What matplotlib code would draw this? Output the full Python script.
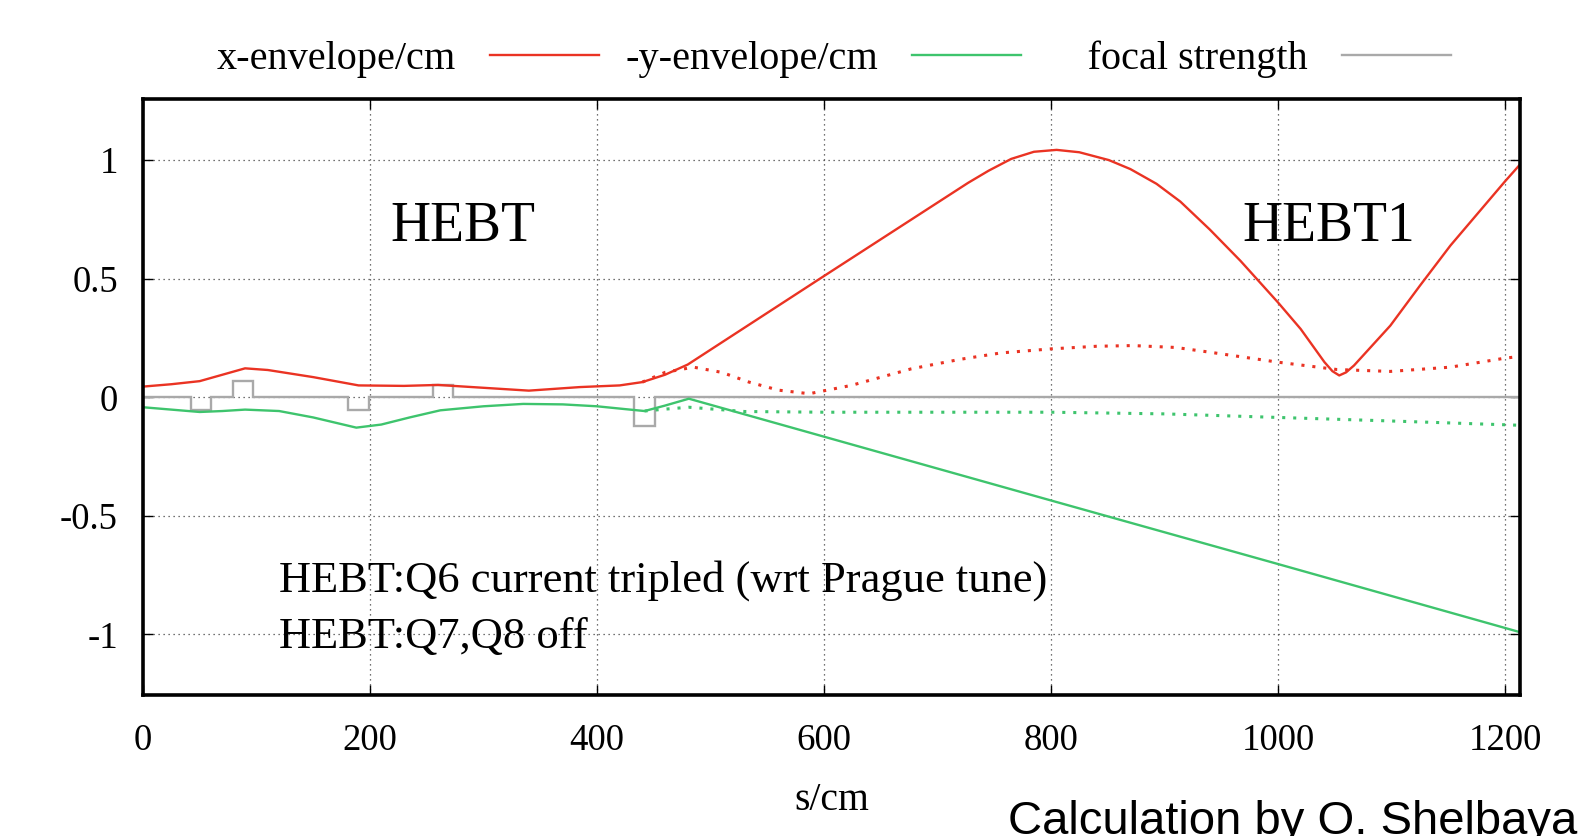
import matplotlib
matplotlib.use('Agg')
import matplotlib.pyplot as plt

plt.rcParams['font.family'] = 'Liberation Serif'
plt.rcParams['axes.unicode_minus'] = False

# x-envelope (solid = Q6 tripled, dotted = reference)
x_env_s = [0, 25, 50, 70, 90, 110, 150, 190, 230, 260, 300, 340, 385, 420, 440,
           460, 480, 600, 727, 745, 765, 785, 805, 825, 851, 870, 893, 914, 940,
           967, 1000, 1020, 1041, 1048, 1054, 1060, 1067, 1099, 1125, 1152, 1200,
           1213]
x_env = [0.045, 0.055, 0.068, 0.095, 0.122, 0.115, 0.085, 0.050, 0.048, 0.052,
         0.040, 0.028, 0.043, 0.050, 0.064, 0.095, 0.138, 0.511, 0.904, 0.955,
         1.005, 1.035, 1.043, 1.033, 1.0, 0.962, 0.90, 0.825, 0.707, 0.575, 0.40,
         0.288, 0.148, 0.110, 0.092, 0.105, 0.134, 0.302, 0.47, 0.64, 0.91, 0.98]
x_ref_s = [440, 460, 485, 510, 534, 560, 587, 624, 677, 720, 756, 800, 840, 872,
           910, 940, 1000, 1052, 1099, 1152, 1200, 1213]
x_ref = [0.064, 0.105, 0.127, 0.105, 0.064, 0.030, 0.015, 0.050, 0.120, 0.160,
         0.187, 0.204, 0.215, 0.218, 0.210, 0.190, 0.148, 0.117, 0.109, 0.127,
         0.165, 0.172]

# -y-envelope
y_env_s = [0, 25, 50, 70, 90, 120, 150, 188, 210, 235, 262, 300, 335, 370, 400,
           425, 442, 460, 481, 600, 800, 1000, 1213]
y_env = [-0.042, -0.052, -0.062, -0.058, -0.052, -0.058, -0.085, -0.128, -0.115,
         -0.085, -0.055, -0.038, -0.028, -0.030, -0.038, -0.050, -0.058, -0.035,
         -0.006, -0.166, -0.435, -0.703, -0.99]
y_ref_s = [442, 460, 481, 530, 600, 700, 800, 900, 1000, 1100, 1213]
y_ref = [-0.058, -0.050, -0.042, -0.060, -0.063, -0.063, -0.063, -0.070, -0.085,
         -0.100, -0.118]

# focal strength (step)
focal_edges = [0, 42, 60, 79, 97, 181, 199, 256, 273, 433, 451, 1213]
focal_vals = [0, -0.053, 0, 0.068, 0, -0.055, 0, 0.051, 0, -0.12, 0]

red = '#ea3323'
green = '#3ec46d'
gray = '#a9a9a9'

fig = plt.figure(figsize=(15.88, 8.36), dpi=100)
ax = fig.add_axes([0.090, 0.169, 0.867, 0.713])

ax.plot(x_env_s, x_env, color=red, lw=1.7, label='x-envelope/cm')
ax.plot(x_ref_s, x_ref, color=red, lw=2.2, ls=(0, (1, 2.6)))
ax.plot(y_env_s, y_env, color=green, lw=1.7, label='-y-envelope/cm')
ax.plot(y_ref_s, y_ref, color=green, lw=2.2, ls=(0, (1, 2.6)))
ax.stairs(focal_vals, focal_edges, baseline=None, color=gray, lw=1.7,
          label='    focal strength')

ax.set_xlim(0, 1213)
ax.set_ylim(-1.254, 1.259)
ax.set_xticks([0, 200, 400, 600, 800, 1000, 1200])
ax.set_yticks([-1, -0.5, 0, 0.5, 1])
ax.set_yticklabels(['-1', '-0.5', '0', '0.5', '1'])
ax.grid(True, color='#444444', lw=0.9, ls=(0, (1, 3)))
ax.set_axisbelow(True)
ax.tick_params(direction='in', length=7, width=1, top=True, right=True,
               labelsize=26.5)
ax.tick_params(axis='y', pad=18)
ax.tick_params(axis='x', pad=21)
for sp in ax.spines.values():
    sp.set_linewidth(2.6)
ax.set_xlabel('s/cm', fontsize=28.5, labelpad=17)

ax.text(218, 0.66, 'HEBT', fontsize=40, va='baseline')
ax.text(969, 0.66, 'HEBT1', fontsize=40, va='baseline')
ax.text(120, -0.82, 'HEBT:Q6 current tripled (wrt Prague tune)', fontsize=32,
        va='baseline')
ax.text(120, -1.055, 'HEBT:Q7,Q8 off', fontsize=32, va='baseline')

ax.legend(ncol=3, markerfirst=False, frameon=False, fontsize=29,
          loc='center', bbox_to_anchor=(0.525, 0.929),
          bbox_transform=fig.transFigure, handlelength=2.7,
          handletextpad=0.85, columnspacing=0.65)

fig.text(1008 / 1588, 0.002, 'Calculation by O. Shelbaya', fontsize=34,
         family='Liberation Sans', va='baseline', ha='left')

fig.savefig('out.png', dpi=100)
